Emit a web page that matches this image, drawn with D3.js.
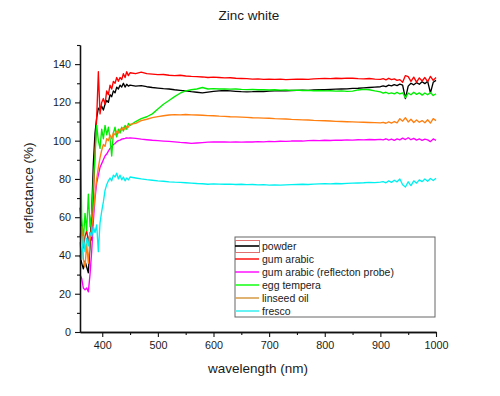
<!DOCTYPE html>
<html>
<head>
<meta charset="utf-8">
<script src="https://cdn.jsdelivr.net/npm/d3@7"></script>
<style>
  body { margin: 0; background: #fff; }
  text { font-family: "Liberation Sans", Arial, sans-serif; fill: #1a1a1a; }
</style>
</head>
<body>
<div id="chart"></div>
<script>
/* wavelength grid (nm) shared by all spectra */
const wavelength = [
  360,363,366,369,372,375,378,381,384,387,390,393,396,399,402,405,408,411,414,417,
  420,423,426,429,432,435,438,441,444,447,450,
  460,470,480,490,500,510,520,530,540,550,560,570,580,590,600,610,620,630,640,650,
  660,670,680,690,700,710,720,730,740,750,760,770,780,790,800,810,820,830,840,850,
  860,870,880,890,900,
  905,910,915,920,925,930,935,940,945,950,955,960,965,970,975,980,985,990,995,1000
];

/* reflectance (%) */
const powder = [
  40,36,33,37,34,31,45,62,88,104,112,117,116,118,116,119,121,120,124,123,
  126,125,128,127,129,128,130,128,129.5,128.5,129,
  128.5,128.8,128.2,127.8,127.5,127.2,127,126.6,126.3,126,125.6,125.3,125,125.4,125.8,126,126.2,126,125.8,125.6,
  125.5,125.6,125.8,125.7,125.9,126,126.1,126,126.2,126.3,126.4,126.3,126.5,126.6,126.6,126.8,126.9,127,127.1,127.3,
  127.4,127.6,127.8,128,128.2,
  128.6,128.2,129,128.6,129.3,128.8,129.5,129,122,128.5,130,129.2,130.3,129.5,130.8,129.8,131,125,130.5,131.5
];
const gumArabic = [
  65,55,44,50,53,47,52,48,70,95,112,136,114,120,122,119,126,124,129,127,
  131,130,133,131,133,132,135,133,136,134,135.5,
  135,135.8,135,134.8,134.5,134.6,134.2,134,134.2,133.8,133.6,133.5,133.3,133,133.2,133,132.8,132.9,132.6,132.5,
  132.4,132.2,132.3,132,132.1,132,132.2,131.9,132,132.1,132.2,132,132.3,132.4,132.5,132.4,132.6,132.5,132.7,132.6,
  132.4,132.3,132.5,132.2,132,
  132.4,131.8,132.6,131.9,132.3,131.5,131.9,130.5,134,133.5,131,133.2,130.6,132.8,131.2,133,130.8,133.6,131.5,133
];
const reflectonProbe = [
  30,28,23,22,23,21,30,42,58,70,78,82,86,88,90,92,93,94.5,96,97,
  98,98.5,99.5,100,100.3,100.8,101,101.2,101.5,101.3,101.5,
  101.2,100.8,100.5,100.2,100,99.8,99.6,99.4,99.1,98.9,98.6,98.8,99,99.2,99.3,99.4,99.3,99.2,99.3,99.2,
  99.4,99.3,99.5,99.4,99.6,99.5,99.7,99.6,99.8,99.9,99.8,100,100.1,100,100.2,100.1,100.3,100.2,100.4,100.3,
  100.5,100.4,100.6,100.5,100.7,
  100.4,101,100.3,100.8,100.2,100.9,100.4,101.3,100.6,101.5,100.5,101.2,100.3,100.9,100.2,100.8,100.4,99.5,100.9,100.2
];
const eggTempera = [
  121,60,48,62,53,72,55,62,78,92,108,100,96,106,101,108,103,107,101,92,
  104,107,102,106,104,107,105,108,106,109,108,
  110,111.5,112.5,114,116.5,119,121,123,124.8,126,126.6,127,127.8,127,127.2,127,127.1,126.9,127,126.8,
  126.7,126.8,126.6,126.7,126.5,126.6,126.4,126.5,126.3,126.4,126.2,126.3,126.1,126.2,126,126.1,125.9,126,125.8,125.9,
  126.5,126.8,126.6,126,125.5,
  124.8,125.3,124.6,125,124.5,125.2,124.4,125,122.5,124.8,124,125.3,124.2,125,123.8,124.9,124,125.2,123.6,124.5
];
const linseedOil = [
  50,55,38,34,46,36,48,55,62,72,80,86,91,95,98,97,101,100,103,101,
  104,103,105,104,106,105.5,107,106,107.5,107,108.5,
  109,110.5,111.2,112,112.6,113,113.4,113.6,113.5,113.7,113.5,113.4,113.3,113.1,113,112.8,112.7,112.5,112.4,112.3,
  112.2,112,111.9,111.8,111.7,111.5,111.4,111.3,111.1,111,110.9,110.8,110.6,110.5,110.4,110.3,110.1,110,109.9,109.8,
  109.7,109.6,109.5,109.4,109.3,
  109.6,109.1,109.8,109.2,110,109.3,111.5,110.2,112,109.8,111.2,109.5,110.8,109.6,110.5,109.4,110.9,109.2,111.5,110.5
];
const fresco = [
  47,38,50,42,49,45,52,50,55,52,56,42,57,63,68,74,77,79,80.5,79,
  82,81,83,80,82,79.5,81,79,80.5,79.5,81,
  80.5,80,79.6,79.3,79,78.8,78.5,78.3,78.2,78,77.8,77.6,77.5,77.2,77.4,77.3,77.2,77.3,77.1,77.2,
  77,77.1,76.9,77,76.8,76.9,76.8,76.9,77,77.1,77.2,77.1,77.3,77.4,77.5,77.4,77.6,77.5,77.7,77.8,
  77.9,78,78.2,78.1,78.3,
  78.6,78,79,78.2,79.3,78.5,80,77,75.8,78.5,76.5,79,77.8,79.5,78.6,80,78.8,80.2,79.2,80.4
];

const seriesNames  = ["powder", "gum arabic", "gum arabic (reflecton probe)", "egg tempera", "linseed oil", "fresco"];
const seriesValues = [powder, gumArabic, reflectonProbe, eggTempera, linseedOil, fresco];
const seriesColors = ["#000000", "#ff0000", "#ff00ff", "#00ee00", "#ff7f10", "#00f0f0"];
const legendColors = ["#000000", "#ff2020", "#ff20ff", "#20ff20", "#d9a050", "#40f0f0"];

const xMajor = [400, 500, 600, 700, 800, 900, 1000];
const xMinor = [450, 550, 650, 750, 850, 950];
const yMajor = [0, 20, 40, 60, 80, 100, 120, 140];
const yMinor = [10, 30, 50, 70, 90, 110, 130, 150];

const width = 500, height = 396;
const margin = { top: 45, right: 64, bottom: 64, left: 80 };

const x = d3.scaleLinear([360, 1000], [margin.left, width - margin.right]);
const y = d3.scaleLinear([0, 150], [height - margin.bottom, margin.top]);

const svg = d3.select("#chart").append("svg")
  .attr("width", width)
  .attr("height", height);

/* title */
svg.append("text")
  .attr("x", 249).attr("y", 20)
  .attr("text-anchor", "middle")
  .attr("font-size", 13.5)
  .text("Zinc white");

/* spectra */
const line = d3.line()
  .x((d, i) => x(wavelength[i]))
  .y(d => y(d));

svg.append("g")
  .selectAll("path")
  .data(seriesValues)
  .join("path")
    .attr("fill", "none")
    .attr("stroke", (d, i) => seriesColors[i])
    .attr("stroke-width", 1.35)
    .attr("stroke-linejoin", "round")
    .attr("d", line);

/* axes */
const styleAxis = g => {
  g.select(".domain").attr("stroke", "#111").attr("stroke-width", 1.3);
  g.selectAll(".tick line").attr("stroke", "#111").attr("stroke-width", 1.1);
  g.selectAll(".tick text")
    .attr("font-size", 10.8)
    .attr("font-family", "Liberation Sans, Arial, sans-serif")
    .attr("fill", "#1a1a1a");
};

svg.append("g")
  .attr("transform", `translate(0,${y(0)})`)
  .call(d3.axisBottom(x).tickValues(xMinor).tickFormat("").tickSize(3).tickSizeOuter(0))
  .call(styleAxis);

svg.append("g")
  .attr("transform", `translate(0,${y(0)})`)
  .call(d3.axisBottom(x).tickValues(xMajor).tickFormat(d3.format("d")).tickSize(5).tickPadding(4).tickSizeOuter(0))
  .call(styleAxis);

svg.append("g")
  .attr("transform", `translate(${x(360)},0)`)
  .call(d3.axisLeft(y).tickValues(yMinor).tickFormat("").tickSize(3).tickSizeOuter(0))
  .call(styleAxis);

svg.append("g")
  .attr("transform", `translate(${x(360)},0)`)
  .call(d3.axisLeft(y).tickValues(yMajor).tickFormat(d3.format("d")).tickSize(5).tickPadding(4).tickSizeOuter(0))
  .call(styleAxis);

/* axis titles */
svg.append("text")
  .attr("x", 258).attr("y", 373)
  .attr("text-anchor", "middle")
  .attr("font-size", 13.5)
  .text("wavelength (nm)");

svg.append("text")
  .attr("transform", "rotate(-90)")
  .attr("x", -188).attr("y", 33)
  .attr("text-anchor", "middle")
  .attr("font-size", 13.5)
  .text("reflectance (%)");

/* legend */
const legend = svg.append("g").attr("transform", "translate(235,237)");

legend.append("rect")
  .attr("width", 200).attr("height", 80)
  .attr("fill", "#fff")
  .attr("stroke", "#666")
  .attr("stroke-width", 1);

// odd highlight box around the first entry, as in the original export
legend.append("rect")
  .attr("x", 0.5).attr("y", 3.5)
  .attr("width", 24).attr("height", 12)
  .attr("fill", "none")
  .attr("stroke", "#e07070")
  .attr("stroke-width", 1);

legend.selectAll("g.entry")
  .data(seriesNames)
  .join("g")
    .attr("class", "entry")
    .attr("transform", (d, i) => `translate(0,${9 + i * 13})`)
  .call(g => {
    g.append("line")
      .attr("x1", 0).attr("x2", 24)
      .attr("stroke", (d, i) => legendColors[i])
      .attr("stroke-width", 1.6);
    g.append("text")
      .attr("x", 27).attr("y", 3.8)
      .attr("font-size", 10.5)
      .text(d => d);
  });
</script>
</body>
</html>
